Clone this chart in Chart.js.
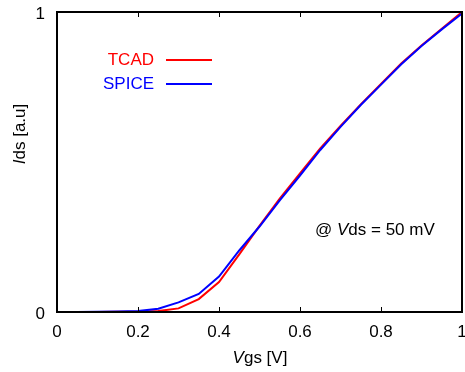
<!DOCTYPE html>
<html>
<head>
<meta charset="utf-8">
<script src="https://cdn.jsdelivr.net/npm/chart.js@4"></script>
<style>
html,body{margin:0;padding:0;background:#fff;}
#wrap{width:465px;height:372px;position:relative;}
</style>
</head>
<body>
<div id="wrap"><canvas id="c" width="465" height="372"></canvas></div>
<script>
const vgs = [0, 0.05, 0.1, 0.15, 0.2, 0.25, 0.3, 0.35, 0.4, 0.45, 0.5, 0.55, 0.6, 0.65, 0.7, 0.75, 0.8, 0.85, 0.9, 0.95, 1.0];
const tcad = [0, 0, 0, 0.001, 0.001, 0.003, 0.012, 0.043, 0.100, 0.192, 0.287, 0.378, 0.462, 0.545, 0.620, 0.692, 0.760, 0.828, 0.888, 0.944, 1.0];
const spice = [0, 0, 0.001, 0.002, 0.003, 0.011, 0.032, 0.060, 0.118, 0.205, 0.285, 0.372, 0.455, 0.540, 0.617, 0.690, 0.758, 0.826, 0.887, 0.942, 0.995];
const xTicks = [0, 0.2, 0.4, 0.6, 0.8, 1];
const yTicks = [0, 1];
const seriesNames = ['TCAD', 'SPICE'];
const seriesColors = ['#ff0000', '#0000ff'];

const FONT = '"Liberation Sans", Arial, Helvetica, sans-serif';
const FS = 17;

function drawMixed(ctx, parts, x, y, align) {
  let total = 0;
  parts.forEach(p => { ctx.font = (p[1] ? 'italic ' : '') + FS + 'px ' + FONT; total += ctx.measureText(p[0]).width; });
  let cx = align === 'center' ? x - total / 2 : (align === 'right' ? x - total : x);
  ctx.textAlign = 'left';
  parts.forEach(p => {
    ctx.font = (p[1] ? 'italic ' : '') + FS + 'px ' + FONT;
    ctx.fillText(p[0], cx, y);
    cx += ctx.measureText(p[0]).width;
  });
}

const decor = {
  id: 'decor',
  afterDatasetsDraw(chart) {
    const ctx = chart.ctx;
    const a = chart.chartArea;
    const xs = chart.scales.x, ys = chart.scales.y;
    ctx.save();
    // inner ticks
    ctx.strokeStyle = '#000';
    ctx.lineWidth = 1;
    xTicks.forEach(v => {
      const px = Math.round(xs.getPixelForValue(v)) + 0.5;
      ctx.beginPath();
      ctx.moveTo(px, a.bottom); ctx.lineTo(px, a.bottom - 5);
      ctx.moveTo(px, a.top); ctx.lineTo(px, a.top + 5);
      ctx.stroke();
    });
    // border
    ctx.lineWidth = 2;
    ctx.strokeRect(a.left, a.top, a.right - a.left, a.bottom - a.top);
    // tick labels
    ctx.fillStyle = '#000';
    ctx.font = FS + 'px ' + FONT;
    ctx.textBaseline = 'middle';
    ctx.textAlign = 'center';
    xTicks.forEach(v => ctx.fillText(String(v), xs.getPixelForValue(v), a.bottom + 20));
    ctx.textAlign = 'right';
    yTicks.forEach(v => ctx.fillText(String(v), a.left - 12, ys.getPixelForValue(v) + 2));
    // legend
    seriesNames.forEach((n, i) => {
      const y = 60 + i * 24;
      ctx.fillStyle = seriesColors[i];
      ctx.font = FS + 'px ' + FONT;
      ctx.textAlign = 'right';
      ctx.fillText(n, 154, y);
      ctx.strokeStyle = seriesColors[i];
      ctx.lineWidth = 2;
      ctx.beginPath();
      ctx.moveTo(166, y); ctx.lineTo(212, y);
      ctx.stroke();
    });
    // annotation
    ctx.fillStyle = '#000';
    drawMixed(ctx, [['@', false], [' ', false], ['V', true], ['ds = 50 mV', false]], 315, 230, 'left');
    // x title
    drawMixed(ctx, [['V', true], ['gs [V]', false]], 260, 358, 'center');
    // y title
    ctx.save();
    ctx.translate(20, 134);
    ctx.rotate(-Math.PI / 2);
    drawMixed(ctx, [['I', true], ['ds [a.u]', false]], 0, 0, 'center');
    ctx.restore();
    ctx.restore();
  }
};

new Chart(document.getElementById('c'), {
  type: 'scatter',
  data: {
    datasets: [
      { label: seriesNames[0], data: vgs.map((v, i) => ({ x: v, y: tcad[i] })), showLine: true, borderColor: seriesColors[0], borderWidth: 2, pointRadius: 0, tension: 0, order: 2 },
      { label: seriesNames[1], data: vgs.map((v, i) => ({ x: v, y: spice[i] })), showLine: true, borderColor: seriesColors[1], borderWidth: 2, pointRadius: 0, tension: 0, order: 1 }
    ]
  },
  options: {
    responsive: false,
    animation: false,
    devicePixelRatio: 1,
    layout: { padding: { top: 12, right: 3, left: 0, bottom: 0 } },
    plugins: { legend: { display: false }, tooltip: { enabled: false } },
    scales: {
      x: {
        type: 'linear', min: 0, max: 1,
        afterBuildTicks(s) { s.ticks = xTicks.map(v => ({ value: v })); },
        afterFit(s) { s.height = 60; },
        grid: { display: false, drawTicks: false },
        border: { display: false },
        ticks: { display: false }
      },
      y: {
        type: 'linear', min: 0, max: 1,
        afterBuildTicks(s) { s.ticks = yTicks.map(v => ({ value: v })); },
        afterFit(s) { s.width = 57; },
        grid: { display: false, drawTicks: false },
        border: { display: false },
        ticks: { display: false }
      }
    }
  },
  plugins: [decor]
});
</script>
</body>
</html>
